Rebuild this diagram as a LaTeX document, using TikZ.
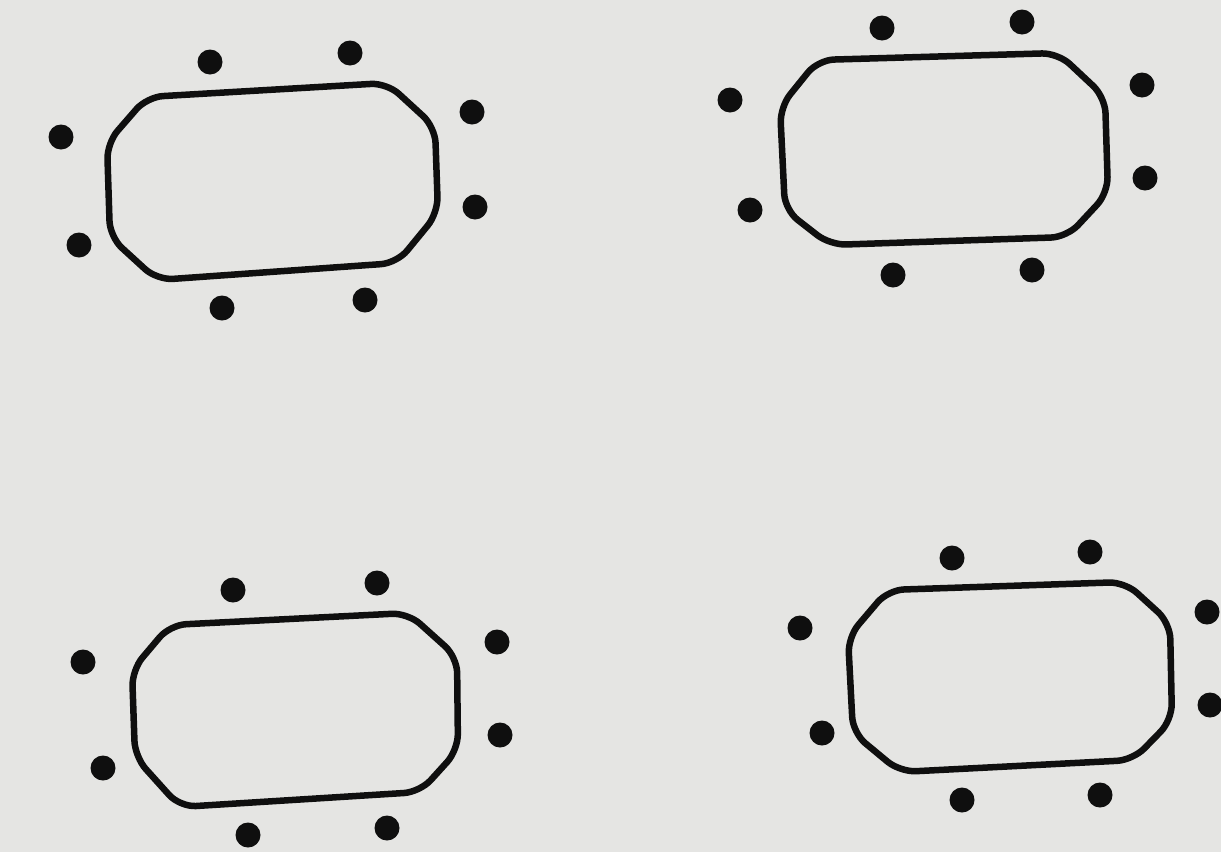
\documentclass[tikz,border=0pt]{standalone}
\definecolor{bg}{RGB}{229,229,227}
\definecolor{ink}{RGB}{15,15,15}
\tikzset{
  tablebox/.style={draw=ink, line width=6.5pt, rounded corners=16pt, line join=round},
  chair/.style={fill=ink, draw=none}
}
\begin{document}
\begin{tikzpicture}[x=1pt,y=-1pt]
\fill[bg] (0,0) rectangle (1221,852);
\useasboundingbox (0,0) rectangle (1221,852);
% table 1
\draw[tablebox] (147,97) -- (387,83) -- (435,127) -- (438,213) -- (397,263) -- (157,280) -- (110,237) -- (107,143) -- cycle;
\foreach \p in {(210,62),(350,53),(61,137),(472,112),(79,245),(475,207),(222,308),(365,300)}
  \fill[chair] \p circle (12.5);
% table 2
\draw[tablebox] (818,60) -- (1058,53) -- (1105,97) -- (1108,193) -- (1067,237) -- (830,245) -- (785,210) -- (780,107) -- cycle;
\foreach \p in {(882,28),(1022,22),(730,100),(1142,85),(750,210),(1145,178),(893,275),(1032,270)}
  \fill[chair] \p circle (12.5);
% table 3
\draw[tablebox] (170,625) -- (408,613) -- (457,657) -- (458,750) -- (420,792) -- (180,807) -- (135,757) -- (132,670) -- cycle;
\foreach \p in {(233,590),(377,583),(83,662),(497,642),(103,768),(500,735),(248,835),(387,828)}
  \fill[chair] \p circle (12.5);
% table 4
\draw[tablebox] (888,590) -- (1125,582) -- (1170,623) -- (1172,720) -- (1133,760) -- (900,772) -- (853,733) -- (848,637) -- cycle;
\foreach \p in {(952,558),(1090,552),(800,628),(1207,612),(822,733),(1210,705),(962,800),(1100,795)}
  \fill[chair] \p circle (12.5);
\end{tikzpicture}
\end{document}
